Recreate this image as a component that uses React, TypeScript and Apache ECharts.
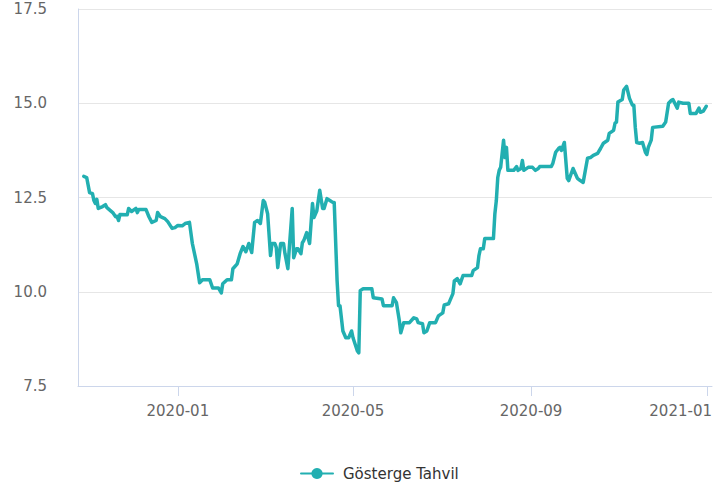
import React, { useEffect, useRef } from "react";
import * as echarts from "echarts";

const dates: string[] = [
  "2019-10-28","2019-10-30","2019-11-01","2019-11-03","2019-11-04","2019-11-05","2019-11-06","2019-11-07",
  "2019-11-10","2019-11-12","2019-11-13","2019-11-17","2019-11-19","2019-11-20","2019-11-21","2019-11-22",
  "2019-11-27","2019-11-28","2019-11-30","2019-12-03","2019-12-04","2019-12-05","2019-12-10","2019-12-12",
  "2019-12-14","2019-12-17","2019-12-18","2019-12-20","2019-12-23","2019-12-25","2019-12-28","2019-12-30",
  "2020-01-01","2020-01-04","2020-01-06","2020-01-09","2020-01-11","2020-01-14","2020-01-16","2020-01-18",
  "2020-01-23","2020-01-25","2020-01-29","2020-01-31","2020-02-01","2020-02-04","2020-02-07","2020-02-08",
  "2020-02-11","2020-02-13","2020-02-15","2020-02-17","2020-02-19","2020-02-21","2020-02-23","2020-02-25",
  "2020-02-27","2020-02-29","2020-03-01","2020-03-03","2020-03-05","2020-03-06","2020-03-08","2020-03-09",
  "2020-03-10","2020-03-12","2020-03-14","2020-03-15","2020-03-17","2020-03-18","2020-03-20","2020-03-21",
  "2020-03-23","2020-03-24","2020-03-26","2020-03-27","2020-03-28","2020-03-30","2020-04-01","2020-04-03",
  "2020-04-04","2020-04-06","2020-04-08","2020-04-10","2020-04-11","2020-04-13","2020-04-15","2020-04-17",
  "2020-04-18","2020-04-20","2020-04-21","2020-04-22","2020-04-24","2020-04-26","2020-04-28","2020-04-30",
  "2020-05-01","2020-05-04","2020-05-05","2020-05-06","2020-05-08","2020-05-14","2020-05-15","2020-05-21",
  "2020-05-22","2020-05-28","2020-05-29","2020-05-31","2020-06-02","2020-06-03","2020-06-05","2020-06-09",
  "2020-06-12","2020-06-14","2020-06-15","2020-06-18","2020-06-19","2020-06-21","2020-06-23","2020-06-27",
  "2020-06-29","2020-07-02","2020-07-03","2020-07-06","2020-07-09","2020-07-10","2020-07-12","2020-07-14",
  "2020-07-16","2020-07-22","2020-07-23","2020-07-26","2020-07-27","2020-07-28","2020-07-30","2020-07-31",
  "2020-08-06","2020-08-07","2020-08-08","2020-08-09","2020-08-10","2020-08-11","2020-08-13","2020-08-14",
  "2020-08-15","2020-08-16","2020-08-20","2020-08-22","2020-08-23","2020-08-25","2020-08-26","2020-08-27",
  "2020-08-30","2020-09-02","2020-09-04","2020-09-06","2020-09-07","2020-09-15","2020-09-16","2020-09-18",
  "2020-09-20","2020-09-21","2020-09-22","2020-09-24","2020-09-26","2020-09-27","2020-09-30","2020-10-03",
  "2020-10-05","2020-10-07","2020-10-10","2020-10-12","2020-10-14","2020-10-17","2020-10-19","2020-10-21",
  "2020-10-24","2020-10-25","2020-10-28","2020-10-29","2020-10-30","2020-10-31","2020-11-03","2020-11-04",
  "2020-11-06","2020-11-07","2020-11-08","2020-11-10","2020-11-11","2020-11-12","2020-11-13","2020-11-15",
  "2020-11-17","2020-11-19","2020-11-20","2020-11-21","2020-11-23","2020-11-24","2020-12-01","2020-12-03",
  "2020-12-05","2020-12-07","2020-12-08","2020-12-11","2020-12-12","2020-12-15","2020-12-19","2020-12-20",
  "2020-12-24","2020-12-26","2020-12-27","2020-12-29","2020-12-31"
];

const values: number[] = [
  13.06,13.03,12.63,12.6,12.42,12.34,12.45,12.21,
  12.26,12.31,12.23,12.1,11.99,12.0,11.89,12.05,
  12.04,12.21,12.13,12.21,12.1,12.18,12.18,11.99,
  11.84,11.89,12.1,11.99,11.94,11.86,11.68,11.7,
  11.76,11.75,11.81,11.84,11.28,10.74,10.24,10.32,
  10.32,10.1,10.1,9.97,10.21,10.32,10.32,10.61,
  10.74,11.01,11.2,11.06,11.28,11.04,11.84,11.89,
  11.81,12.42,12.37,12.07,10.96,11.28,11.28,11.17,
  10.64,11.28,11.28,11.01,10.61,11.17,12.21,10.9,
  11.14,11.14,11.01,11.3,11.36,11.57,11.28,12.34,
  11.97,12.15,12.69,12.21,12.21,12.47,12.42,12.37,
  12.37,10.29,9.63,9.63,8.96,8.78,8.78,8.96,
  8.78,8.43,8.38,10.03,10.08,10.08,9.84,9.81,
  9.63,9.63,9.84,9.71,9.23,8.91,9.18,9.18,
  9.31,9.28,9.18,9.15,8.91,8.96,9.18,9.18,
  9.36,9.44,9.65,9.68,9.95,10.29,10.35,10.21,
  10.43,10.43,10.56,10.64,10.96,11.14,11.14,11.41,
  11.41,12.07,12.42,13.03,13.22,13.3,14.02,13.56,
  13.83,13.22,13.22,13.32,13.22,13.27,13.48,13.22,
  13.3,13.3,13.22,13.27,13.32,13.32,13.4,13.7,
  13.8,13.83,13.75,13.96,13.01,12.95,13.27,13.01,
  12.95,12.9,13.54,13.56,13.62,13.67,13.8,13.94,
  14.02,14.2,14.28,14.47,14.5,15.03,15.1,15.35,
  15.45,15.29,15.13,14.95,14.95,14.36,13.96,13.94,
  13.96,13.7,13.64,13.83,14.02,14.36,14.39,14.5,
  15.0,15.08,15.1,14.87,15.03,15.0,15.0,14.73,
  14.73,14.87,14.76,14.79,14.92
];

const xTickDates: string[] = ["2020-01-01", "2020-05-01", "2020-09-01", "2021-01-01"];
const xMinDate = "2019-10-24";
const xMaxDate = "2021-01-04";
const seriesName = "Gösterge Tahvil";

const toUTC = (s: string) => {
  const [y, m, d] = s.split("-").map(Number);
  return Date.UTC(y, m - 1, d);
};

export default function App() {
  const ref = useRef<HTMLDivElement>(null);
  useEffect(() => {
    if (!ref.current) return;
    document.body.style.margin = "0";
    document.body.style.overflow = "hidden";
    const chart = echarts.init(ref.current, undefined, { renderer: "svg", width: 725, height: 488 });
    const data = dates.map((d, i) => [toUTC(d), values[i]]);
    const ticks = xTickDates.map(toUTC);
    const lastTick = ticks[ticks.length - 1];
    const font = "DejaVu Sans";
    const labelText = { fontFamily: font, fontSize: 15, color: "#666666" };
    chart.setOption({
      animation: false,
      backgroundColor: "#ffffff",
      grid: { left: 78, right: 13, top: 9, bottom: 102, containLabel: false, outerBoundsMode: "none" },
      legend: {
        left: 295,
        top: 461,
        itemWidth: 32,
        itemHeight: 14,
        data: [seriesName],
        textStyle: { fontFamily: font, fontSize: 15, color: "#333333", padding: [0, 0, 0, 5] },
      },
      xAxis: {
        type: "value",
        min: toUTC(xMinDate),
        max: toUTC(xMaxDate),
        axisLine: { show: true, lineStyle: { color: "#ccd6eb", width: 1 } },
        axisTick: { show: true, length: 10, lineStyle: { color: "#ccd6eb" }, customValues: ticks },
        axisLabel: {
          customValues: ticks,
          margin: 17,
          ...labelText,
          formatter: (v: number) => {
            const d = new Date(v);
            const s = `${d.getUTCFullYear()}-${String(d.getUTCMonth() + 1).padStart(2, "0")}`;
            return v === lastTick ? `{last|${s}}` : s;
          },
          rich: { last: { ...labelText, padding: [0, 54, 0, 0] } },
        },
        splitLine: { show: false },
      },
      yAxis: {
        type: "value",
        min: 7.5,
        max: 17.5,
        interval: 2.5,
        axisLine: { show: true, lineStyle: { color: "#ccd6eb", width: 1 } },
        axisTick: { show: false },
        axisLabel: {
          margin: 31,
          ...labelText,
          formatter: (v: number) => v.toFixed(1),
        },
        splitLine: { show: true, lineStyle: { color: "#e6e6e6", width: 1 } },
      },
      series: [
        {
          name: seriesName,
          type: "line",
          data,
          symbol: "circle",
          symbolSize: 14,
          showSymbol: false,
          itemStyle: { color: "#22afb1" },
          lineStyle: { color: "#22afb1", width: 3.5, join: "round", cap: "round" },
        },
      ],
    });
    return () => chart.dispose();
  }, []);
  return (
    <div
      ref={ref}
      style={{ position: "fixed", left: 0, top: 0, width: 725, height: 488 }}
    />
  );
}
